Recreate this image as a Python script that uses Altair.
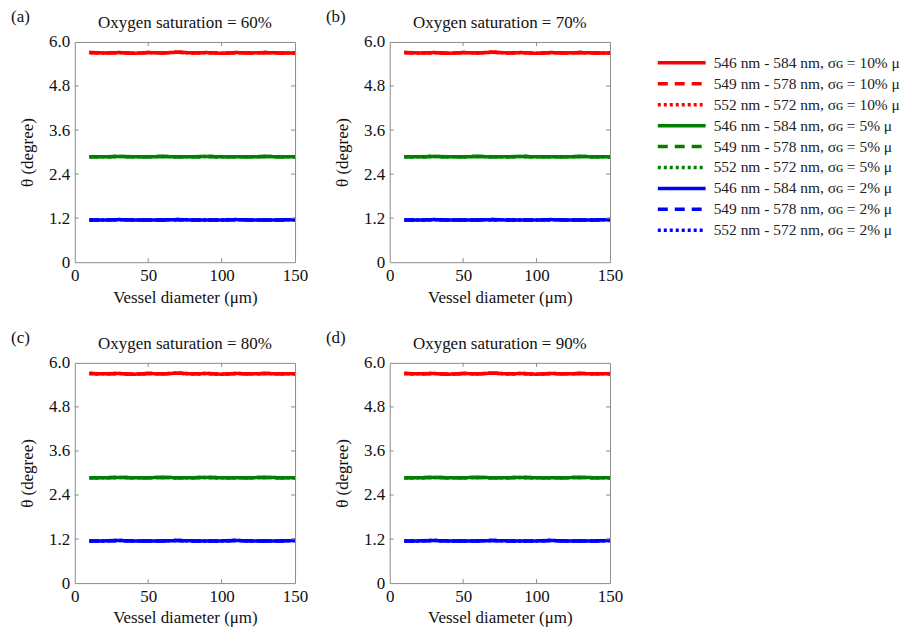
import altair as alt
import pandas as pd

# ---------------- data ----------------
diameters = [10, 20, 30, 40, 50, 60, 70, 80, 90, 100, 110, 120, 130, 140, 150]
red_theta = [5.71, 5.70, 5.71, 5.69, 5.71, 5.70, 5.72, 5.70, 5.71, 5.69, 5.71, 5.70, 5.71, 5.70, 5.70]
green_theta = [2.87, 2.87, 2.88, 2.87, 2.87, 2.88, 2.87, 2.87, 2.88, 2.87, 2.87, 2.87, 2.88, 2.87, 2.87]
blue_theta = [1.15, 1.15, 1.16, 1.15, 1.15, 1.15, 1.16, 1.15, 1.15, 1.15, 1.16, 1.15, 1.15, 1.15, 1.16]

saturations = ["60%", "70%", "80%", "90%"]
panel_labels = ["(a)", "(b)", "(c)", "(d)"]
band_pairs = ["546 nm - 584 nm", "549 nm - 578 nm", "552 nm - 572 nm"]
sigma_levels = ["10%", "5%", "2%"]
level_colors = ["#ff0000", "#008000", "#0000ff"]
band_dashes = [[1, 0], [10, 7], [3, 3]]

x_ticks = [0, 50, 100, 150]
y_ticks = [0, 1.2, 2.4, 3.6, 4.8, 6.0]
x_inner_ticks = [50, 100]
y_inner_ticks = [1.2, 2.4, 3.6, 4.8]

level_values = [red_theta, green_theta, blue_theta]

# ---------------- build table ----------------
series_labels, series_colors, series_dashes = [], [], []
for li, sig in enumerate(sigma_levels):
    for bi, band in enumerate(band_pairs):
        series_labels.append(f"{band}, σɢ = {sig} μ")
        series_colors.append(level_colors[li])
        series_dashes.append(band_dashes[bi])

rows = []
for sat in saturations:
    for li, sig in enumerate(sigma_levels):
        for bi, band in enumerate(band_pairs):
            lab = f"{band}, σɢ = {sig} μ"
            for d, v in zip(diameters, level_values[li]):
                rows.append({"sat": sat, "series": lab, "diameter": d, "theta": v})
df = pd.DataFrame(rows)

W, H = 221, 221
FONT = "Liberation Serif"
FRAME = "#8c8c8c"

xscale = alt.Scale(domain=[0, 150], nice=False, zero=False)
yscale = alt.Scale(domain=[0, 6], nice=False)

legend = alt.Legend(
    title=None, orient="none", legendX=583, legendY=9,
    symbolType="M-2.4,0H2.4", symbolSize=400, symbolStrokeWidth=3.5,
    symbolOffset=14, labelOffset=20,
    labelFont=FONT, labelFontSize=15.5, labelLimit=0, rowPadding=0,
    labelColor="#222",
)


def panel(sat, label):
    lines = alt.Chart(df).transform_filter(alt.datum.sat == sat).mark_line(
        strokeWidth=3.5, clip=True
    ).encode(
        x=alt.X("diameter:Q", scale=xscale,
                axis=alt.Axis(values=x_ticks, title="Vessel diameter (μm)", format="d")),
        y=alt.Y("theta:Q", scale=yscale,
                axis=alt.Axis(values=y_ticks, title="θ (degree)",
                              labelExpr="datum.value == 0 ? '0' : format(datum.value, '.1f')")),
        color=alt.Color("series:N", scale=alt.Scale(domain=series_labels, range=series_colors),
                        legend=legend),
        strokeDash=alt.StrokeDash("series:N", scale=alt.Scale(domain=series_labels, range=series_dashes),
                                  legend=legend),
    )
    ydf = pd.DataFrame({"theta": y_inner_ticks})
    xdf = pd.DataFrame({"diameter": x_inner_ticks})
    left_t = alt.Chart(ydf).mark_rule(color=FRAME).encode(
        y=alt.Y("theta:Q", scale=yscale), x=alt.value(0), x2=alt.value(4))
    right_t = alt.Chart(ydf).mark_rule(color=FRAME).encode(
        y=alt.Y("theta:Q", scale=yscale), x=alt.value(W - 4), x2=alt.value(W))
    bot_t = alt.Chart(xdf).mark_rule(color=FRAME).encode(
        x=alt.X("diameter:Q", scale=xscale), y=alt.value(H), y2=alt.value(H - 4))
    top_t = alt.Chart(xdf).mark_rule(color=FRAME).encode(
        x=alt.X("diameter:Q", scale=xscale), y=alt.value(0), y2=alt.value(4))
    lab = alt.Chart(pd.DataFrame({"t": [label]})).mark_text(
        font=FONT, fontSize=17, align="left", baseline="alphabetic", color="#111"
    ).encode(text="t:N", x=alt.value(-64), y=alt.value(-20))
    ttl = alt.Chart(pd.DataFrame({"t": [f"Oxygen saturation = {sat}"]})).mark_text(
        font=FONT, fontSize=17, align="center", baseline="alphabetic", color="#111"
    ).encode(text="t:N", x=alt.value(W / 2), y=alt.value(-14))
    return alt.layer(lines, left_t, right_t, bot_t, top_t, lab, ttl).properties(
        width=W, height=H,
    )


p = [panel(s, l) for s, l in zip(saturations, panel_labels)]
chart = alt.vconcat(
    alt.hconcat(p[0], p[1], spacing=16),
    alt.hconcat(p[2], p[3], spacing=16),
    spacing=22,
).properties(
    padding={"left": 2, "top": -2, "right": 0, "bottom": 0}
).configure(
    background="white"
).configure_axis(
    labelFont=FONT, labelFontSize=17, labelColor="#111",
    titleFont=FONT, titleFontSize=17, titleFontWeight="normal", titleColor="#111",
    ticks=False, domain=False, grid=False, labelPadding=5, titlePadding=6,
    labelFlush=False,
).configure_axisY(
    titlePadding=12
).configure_view(
    stroke=FRAME, strokeWidth=1
)

chart.save("out.html", embed_options={"renderer": "svg", "actions": False})
